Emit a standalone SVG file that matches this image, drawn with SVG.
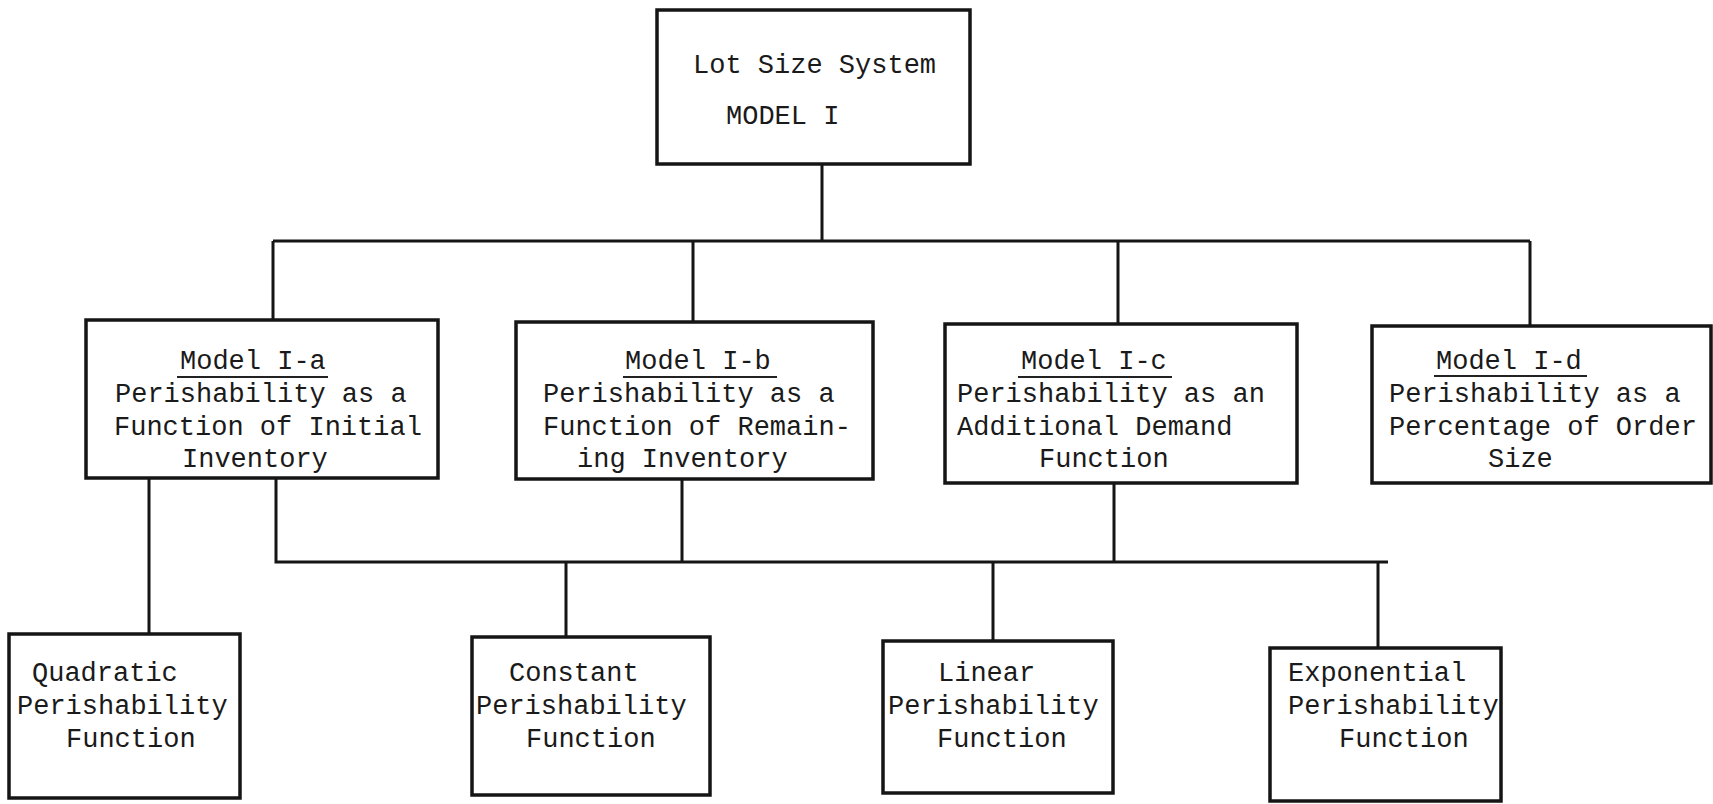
<svg xmlns="http://www.w3.org/2000/svg" width="1713" height="804" viewBox="0 0 1713 804">
<style>
.box{fill:#fff;stroke:#151515;stroke-width:3.5}
.ln{fill:none;stroke:#151515;stroke-width:3}
.ul{stroke:#222;stroke-width:1.8}
text{font-family:"Liberation Mono","Courier New",monospace;font-size:27px;fill:#1a1a1a}
</style>
<rect width="1713" height="804" fill="#fff"/>
<g id="connectors">
<path class="ln" d="M822 164V241M273 241H1530M273 241V320M693 241V322M1118 241V324M1530 241V326"/>
<path class="ln" d="M149 478V634M276 478V562H1388M682 479V562M1114 483V562M566 562V637M993 562V641M1378 562V648"/>
</g>
<g id="top">
<rect class="box" x="657" y="10" width="313" height="154"/>
<text x="693" y="73">Lot Size System</text>
<text x="726" y="124">MODEL I</text>
</g>
<g id="model-ia">
<rect class="box" x="86" y="320" width="352" height="158"/>
<text x="180" y="369">Model I-a</text>
<line class="ul" x1="177" y1="377" x2="328" y2="377"/>
<text x="115" y="402">Perishability as a</text>
<text x="114" y="435">Function of Initial</text>
<text x="182" y="467">Inventory</text>
</g>
<g id="model-ib">
<rect class="box" x="516" y="322" width="357" height="157"/>
<text x="625" y="369">Model I-b</text>
<line class="ul" x1="623" y1="377" x2="777" y2="377"/>
<text x="543" y="402">Perishability as a</text>
<text x="543" y="435">Function of Remain-</text>
<text x="577" y="467">ing Inventory</text>
</g>
<g id="model-ic">
<rect class="box" x="945" y="324" width="352" height="159"/>
<text x="1021" y="369">Model I-c</text>
<line class="ul" x1="1018" y1="377" x2="1172" y2="377"/>
<text x="957" y="402">Perishability as an</text>
<text x="957" y="435">Additional Demand</text>
<text x="1039" y="467">Function</text>
</g>
<g id="model-id">
<rect class="box" x="1372" y="326" width="339" height="157"/>
<text x="1436" y="369">Model I-d</text>
<line class="ul" x1="1434" y1="376" x2="1587" y2="376"/>
<text x="1389" y="402">Perishability as a</text>
<text x="1389" y="435">Percentage of Order</text>
<text x="1488" y="467">Size</text>
</g>
<g id="quadratic">
<rect class="box" x="9" y="634" width="231" height="164"/>
<text x="32" y="681">Quadratic</text>
<text x="17" y="714">Perishability</text>
<text x="66" y="747">Function</text>
</g>
<g id="constant">
<rect class="box" x="472" y="637" width="238" height="158"/>
<text x="509" y="681">Constant</text>
<text x="476" y="714">Perishability</text>
<text x="526" y="747">Function</text>
</g>
<g id="linear">
<rect class="box" x="883" y="641" width="230" height="152"/>
<text x="938" y="681">Linear</text>
<text x="888" y="714">Perishability</text>
<text x="937" y="747">Function</text>
</g>
<g id="exponential">
<rect class="box" x="1270" y="648" width="231" height="153"/>
<text x="1288" y="681">Exponential</text>
<text x="1288" y="714">Perishability</text>
<text x="1339" y="747">Function</text>
</g>
</svg>
